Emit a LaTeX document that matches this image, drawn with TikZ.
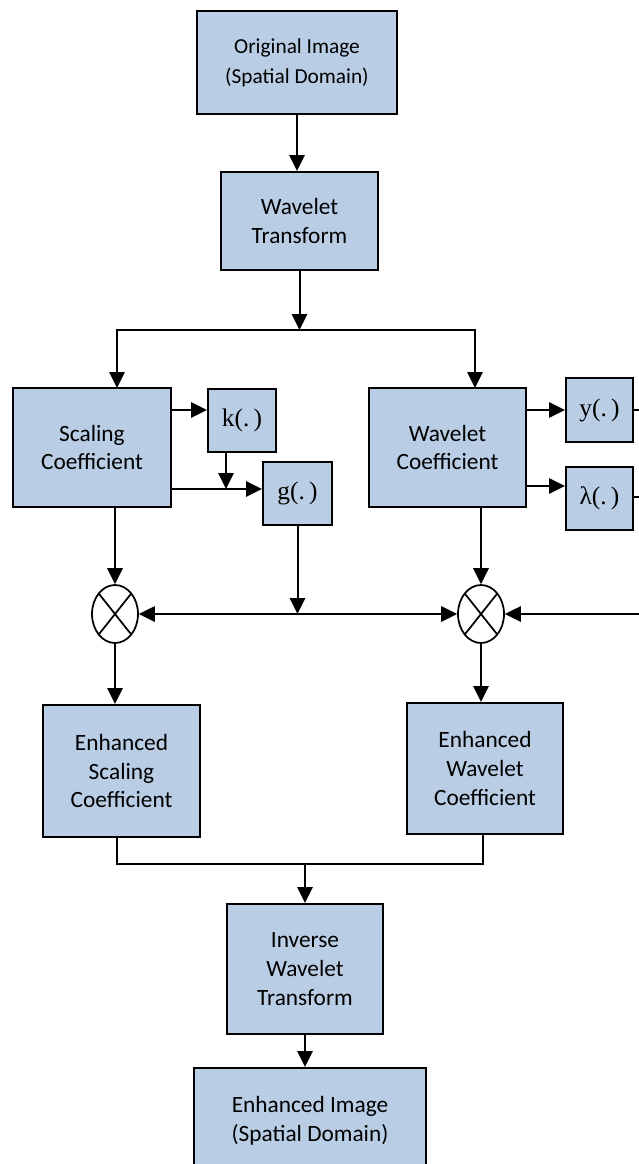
\documentclass[tikz,border=0pt]{standalone}
\usepackage{fontspec}
\setmainfont{Carlito}
\newfontfamily\lblfont{Liberation Serif}
\usetikzlibrary{shapes.geometric,arrows.meta,positioning,calc}

\definecolor{boxblue}{RGB}{185,205,229}

\tikzset{
  blk/.style={draw, line width=1.5pt, fill=boxblue, align=center, inner sep=2pt,
    font=\fontsize{17.5}{21.5}\selectfont},
  fn/.style={blk, font=\lblfont\fontsize{19}{22}\selectfont},
  mult/.style={draw, ellipse, line width=1.3pt, minimum width=34.5pt, minimum height=43.5pt, inner sep=0pt,
    path picture={\draw[line width=1.3pt] (path picture bounding box.north east) -- (path picture bounding box.south west)
      (path picture bounding box.north west) -- (path picture bounding box.south east);}},
  wire/.style={line width=1.5pt},
  arr/.style={wire, -{Triangle[length=12pt,width=11.5pt]}},
  arrs/.style={wire, {Triangle[length=12pt,width=11.5pt]}-{Triangle[length=12pt,width=11.5pt]}}
}

\begin{document}
\begin{tikzpicture}[x=0.75pt, y=-0.75pt]
    \useasboundingbox (0,0) rectangle (639,1164);
    \clip (0,0) rectangle (639,1164);

    % Transform blocks
    \node[blk, minimum width=150pt, minimum height=77.25pt, font=\fontsize{16}{22.5}\selectfont] (orig) at (297,62.5) {Original Image\\(Spatial Domain)};
    \node[blk, minimum width=117.75pt, minimum height=73.5pt] (wt) at (299.5,221) {Wavelet\\Transform};

    % Coefficients
    \node[blk, minimum width=118.5pt, minimum height=89.25pt] (sc) at (92,447.5) {Scaling\\Coefficient};
    \node[blk, minimum width=117.75pt, minimum height=89.25pt] (wc) at (447.5,447.5) {Wavelet\\Coefficient};

    % Mapping functions
    \node[fn, minimum width=51pt, minimum height=47.25pt] (k) at (242,420.5) {k(.\,)};
    \node[fn, minimum width=51.75pt, minimum height=47.25pt] (g) at (297.5,493.5) {g(.\,)};
    \node[fn, minimum width=50.25pt, minimum height=48pt] (y) at (599.5,410) {y(.\,)};
    \node[fn, minimum width=50.25pt, minimum height=47.25pt] (lam) at (599.5,498.5) {λ(.\,)};

    % Multipliers
    \node[mult] (m1) at (115,614) {};
    \node[mult] (m2) at (481,614) {};

    % Enhanced coefficients and output
    \node[blk, minimum width=117.75pt, minimum height=99pt] (esc) at (121.5,771) {Enhanced\\Scaling\\Coefficient};
    \node[blk, minimum width=117pt, minimum height=98.25pt] (ewc) at (485,768.5) {Enhanced\\Wavelet\\Coefficient};
    \node[blk, minimum width=117pt, minimum height=97.5pt] (iwt) at (305,969) {Inverse\\Wavelet\\Transform};
    \node[blk, minimum width=174pt, minimum height=79.5pt] (ei) at (310,1121) {Enhanced Image\\(Spatial Domain)};

    % Forward path
    \draw[arr] (orig.south) -- (orig.south |- wt.north);
    \coordinate (split) at (302,330);
    \coordinate (scin) at (117,388);
    \coordinate (wcin) at (475,388);
    \draw[arr] (wt.south) -- (wt.south |- split);
    \draw[arr] (wt.south |- split) -| (scin);
    \draw[arr] (wt.south |- split) -| (wcin);

    % Scaling branch
    \draw[arr] (sc.east |- 0,410) -- (k.west |- 0,410);
    \draw[arr] (sc.east |- 0,489) -- (g.west |- 0,489);
    \draw[arr] (k.south -| 226,0) -- (226,489);
    \draw[arr] (g.south) -- (g.south |- m1.east);
    \draw[arr] (sc.south -| m1.north) -- (m1.north);

    % Wavelet branch
    \draw[arr] (wc.east |- y.west) -- (y.west);
    \draw[arr] (wc.east |- 0,486) -- (lam.west |- 0,486);
    \draw[wire] (y.east) -- ++(20,0);
    \draw[wire] (lam.east |- 0,497) -- ++(20,0);
    \coordinate (rin) at (645,614);
    \draw[arr] (rin) -- (m2.east);
    \draw[arr] (wc.south -| m2.north) -- (m2.north);

    % Between the multipliers
    \draw[arrs] (m1.east) -- (m2.west);

    % Enhancement outputs
    \draw[arr] (m1.south) -- (m1.south |- esc.north);
    \draw[arr] (m2.south) -- (m2.south |- ewc.north);
    \draw[wire] (esc.south -| 117,0) -- (117,864) -| (ewc.south -| 483,0);
    \draw[arr] (iwt.north |- 0,864) -- (iwt.north);
    \draw[arr] (iwt.south) -- (iwt.south |- ei.north);

\end{tikzpicture}
\end{document}
